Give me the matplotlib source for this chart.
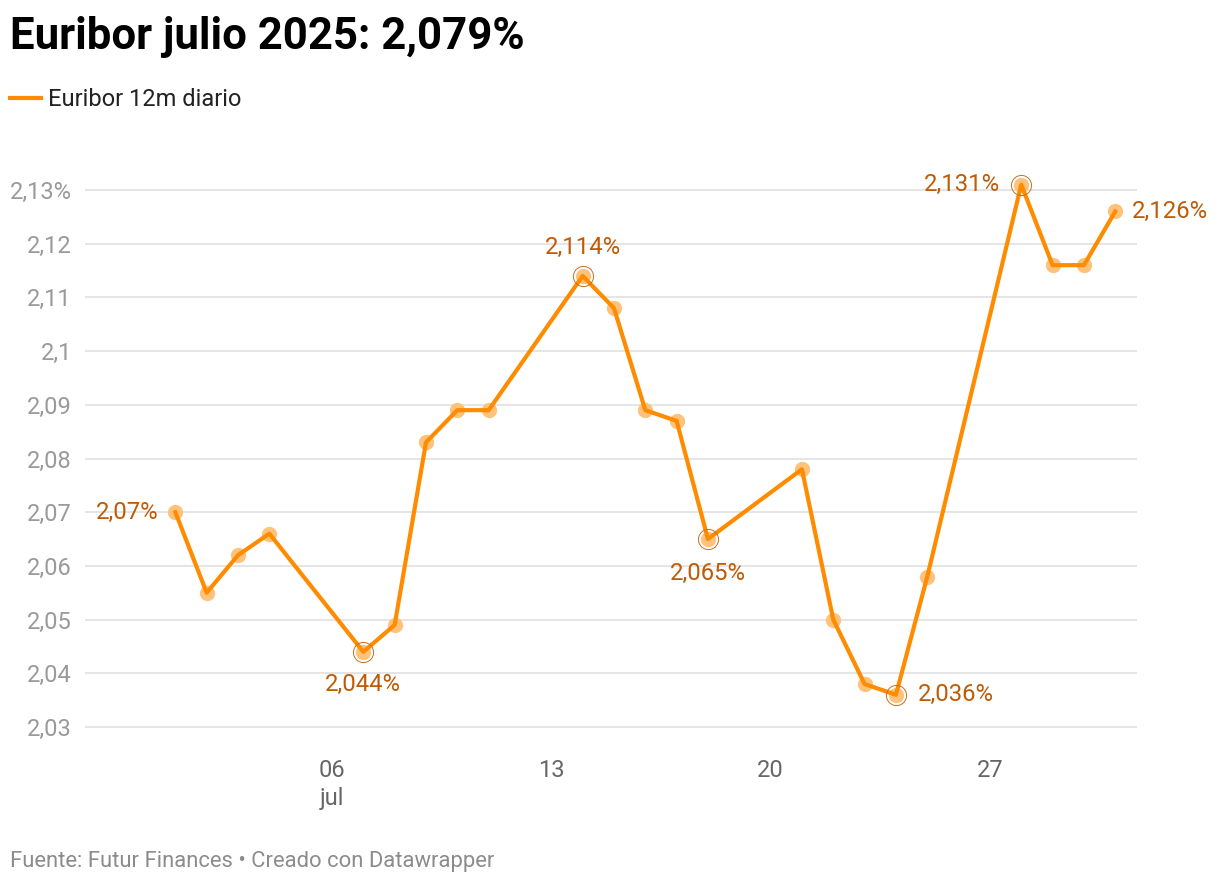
import matplotlib.pyplot as plt

plt.rcParams['font.family'] = ['Roboto', 'DejaVu Sans']

# dias de julio 2025 y valores del Euribor 12m diario (%)
days = [1, 2, 3, 4, 7, 8, 9, 10, 11, 14, 15, 16, 17, 18,
        21, 22, 23, 24, 25, 28, 29, 30, 31]
values = [2.070, 2.055, 2.062, 2.066, 2.044, 2.049, 2.083, 2.089, 2.089,
          2.114, 2.108, 2.089, 2.087, 2.065, 2.078, 2.050, 2.038, 2.036,
          2.058, 2.131, 2.116, 2.116, 2.126]

y_ticks = [2.03, 2.04, 2.05, 2.06, 2.07, 2.08, 2.09, 2.10, 2.11, 2.12, 2.13]
y_labels = ['2,03', '2,04', '2,05', '2,06', '2,07', '2,08', '2,09', '2,1',
            '2,11', '2,12', '2,13%']
x_ticks = [6, 13, 20, 27]
x_labels = ['06\njul', '13', '20', '27']

# etiquetas destacadas: dia, texto, desplazamiento (px), alineacion, circulo
labels = [
    (1, '2,07%', (-17, 0), 'right', 'center', False),
    (7, '2,044%', (0, -33), 'center', 'center', True),
    (14, '2,114%', (0, 28), 'center', 'center', True),
    (18, '2,065%', (0, -34), 'center', 'center', True),
    (24, '2,036%', (22, 0), 'left', 'center', True),
    (28, '2,131%', (-21, 0), 'right', 'center', True),
    (31, '2,126%', (17, 0), 'left', 'center', False),
]

line_color = '#ff8c00'
dot_color = '#ffc27a'
label_color = '#bf5b04'

fig = plt.figure(figsize=(12.2, 8.86), dpi=100)
ax = fig.add_axes([85 / 1220, 0.14915, (1137 - 85) / 1220, 0.66671])

ax.plot(days, values, 'o', color=dot_color, markersize=10, zorder=2,
        clip_on=False)
ax.plot(days, values, '-', color=line_color, linewidth=3, zorder=3,
        clip_on=False, label='Euribor 12m diario')

for d, txt, off, ha, va, ring in labels:
    v = values[days.index(d)]
    if ring:
        ax.plot(d, v, 'o', markersize=14.5, markerfacecolor='none',
                markeredgecolor='#c8701e', markeredgewidth=0.7, zorder=4,
                clip_on=False)
    ax.annotate(txt, (d, v), xytext=off, textcoords='offset pixels',
                ha=ha, va=va, fontsize=17.2, color=label_color, zorder=5)

ax.set_xlim(6 - 247 / 31.33, 6 + 805 / 31.33)
ax.set_ylim(2.025, 2.135)
ax.set_yticks(y_ticks)
ax.set_yticklabels(y_labels)
ax.set_xticks(x_ticks)
ax.set_xticklabels(x_labels, linespacing=1.25)

ax.grid(axis='y', color='#e3e3e3', linewidth=1.3)
ax.set_axisbelow(True)
for s in ax.spines.values():
    s.set_visible(False)
ax.tick_params(axis='y', length=0, pad=9.5, labelsize=17, labelcolor='#9a9a9a')
ax.tick_params(axis='x', length=0, pad=4, labelsize=17, labelcolor='#666666')
for t in ax.get_xticklabels():
    t.set_verticalalignment('top')

fig.text(10 / 1220, 1 - 37 / 886, 'Euribor julio 2025: 2,079%',
         fontsize=31.5, fontweight='bold', va='center', ha='left',
         color='#000000')

fig.legend(loc='center left', bbox_to_anchor=(10 / 1220, 1 - 100 / 886),
           frameon=False, fontsize=17, handlelength=1.3, handletextpad=0.3,
           borderpad=0, borderaxespad=0, labelcolor='#222222')

fig.text(10 / 1220, 1 - 862 / 886,
         'Fuente: Futur Finances \u2022 Creado con Datawrapper',
         fontsize=15.8, color='#8c8c8c', va='center', ha='left')

fig.savefig('out.png', dpi=100)
